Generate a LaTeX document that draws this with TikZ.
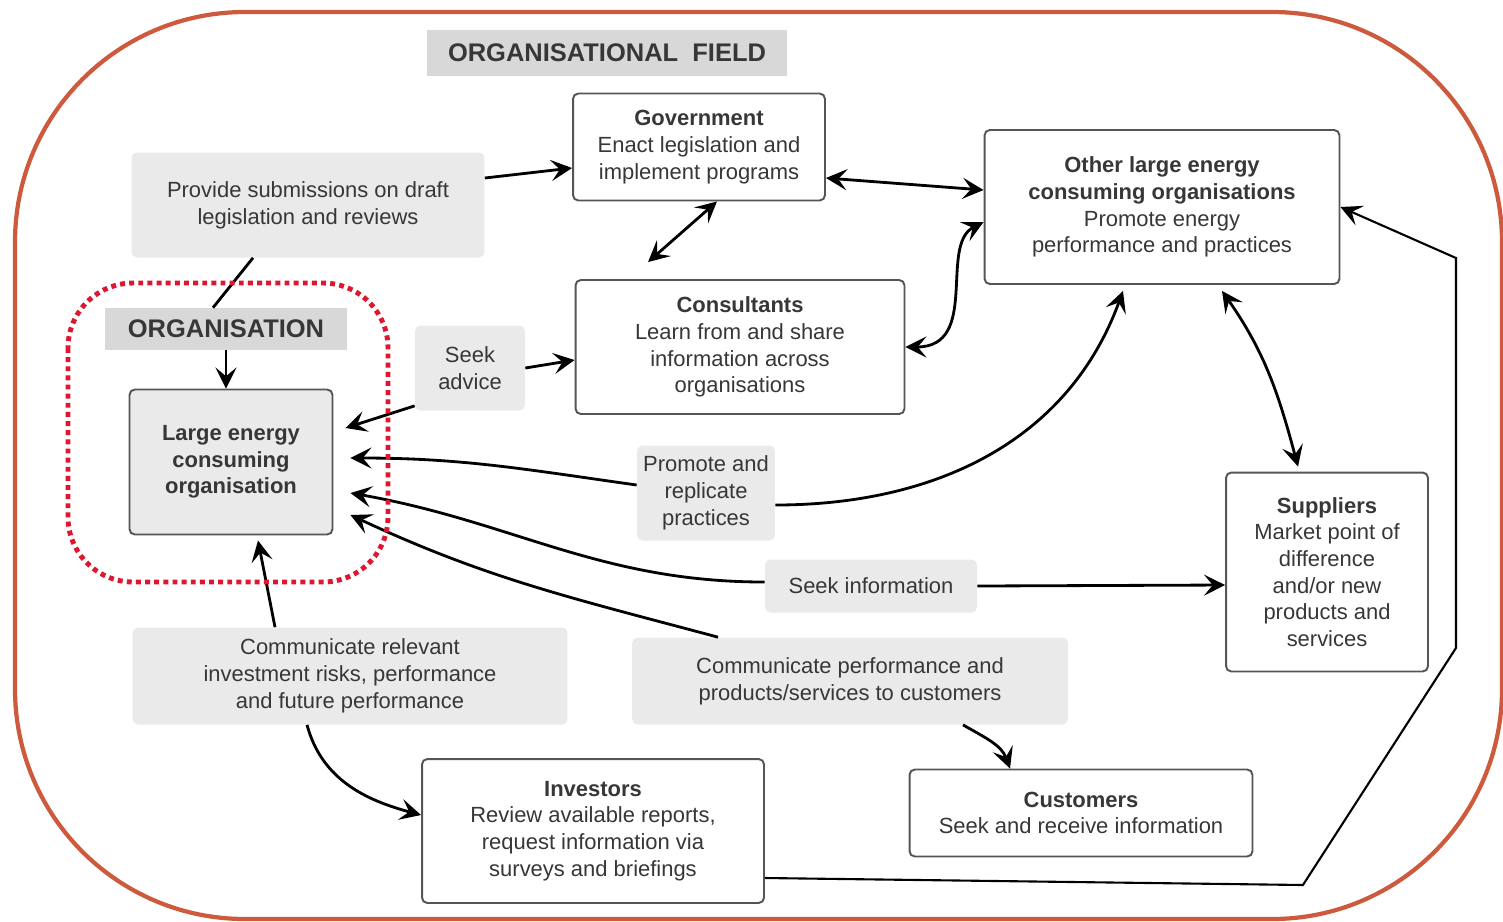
\documentclass[tikz,border=0pt]{standalone}
\usepackage{fontspec}
\setmainfont{Liberation Sans}
\usetikzlibrary{arrows.meta, positioning, calc}
\definecolor{framered}{RGB}{206, 90, 62}
\definecolor{dotred}{RGB}{222, 22, 48}
\definecolor{lblgray}{RGB}{234, 234, 234}
\definecolor{titlegray}{RGB}{216, 216, 216}
\definecolor{edgegray}{RGB}{85, 85, 85}
\definecolor{inkgray}{RGB}{55, 55, 55}
\tikzset{
  >={Stealth[length=12pt, width=12pt, inset=5pt]},
  actorbox/.style={draw=edgegray, line width=1.1pt, fill=white, rounded corners=3pt, align=center, inner sep=2pt, text=inkgray, font=\fontsize{12.5}{15.2}\selectfont},
  actlabel/.style={fill=lblgray, rounded corners=3pt, align=center, inner sep=2pt, text=inkgray, font=\fontsize{12.5}{15.2}\selectfont},
  fieldlabel/.style={fill=titlegray, inner sep=2pt, text=inkgray, font=\fontsize{14.5}{17}\selectfont\bfseries},
  flow/.style={line width=1.6pt, black},
}

\begin{document}
\begin{tikzpicture}[x=0.02cm, y=-0.02cm]
  \useasboundingbox (0,0) rectangle (1503,921);

  % outer field
  \draw[framered, line width=2.4pt, rounded corners=4.6cm] (15,12) rectangle (1502,919);

  % labels of the two levels
  \node[fieldlabel, minimum width=7.22cm, minimum height=0.92cm] (field) at (607,53) {ORGANISATIONAL\ \ FIELD};
  \node[fieldlabel, minimum width=4.86cm, minimum height=0.84cm] (orglab) at (226,329) {ORGANISATION};

  % actors
  \node[actorbox, minimum width=5.04cm, minimum height=2.14cm] (gov) at (699,147) {\textbf{Government}\\Enact legislation and\\implement programs};
  \node[actorbox, minimum width=7.1cm, minimum height=3.08cm] (other) at (1162,207) {\textbf{Other large energy}\\\textbf{consuming organisations}\\Promote energy\\performance and practices};
  \node[actorbox, minimum width=6.58cm, minimum height=2.68cm] (cons) at (740,347) {\textbf{Consultants}\\Learn from and share\\information across\\organisations};
  \node[actorbox, fill=lblgray, minimum width=4.06cm, minimum height=2.9cm] (leco) at (231,462) {\textbf{Large energy}\\\textbf{consuming}\\\textbf{organisation}};
  \node[actorbox, minimum width=4.04cm, minimum height=3.98cm] (supp) at (1327,572) {\textbf{Suppliers}\\Market point of\\difference\\and/or new\\products and\\services};
  \node[actorbox, minimum width=6.84cm, minimum height=2.88cm] (inv) at (593,831) {\textbf{Investors}\\Review available reports,\\request information via\\surveys and briefings};
  \node[actorbox, minimum width=6.86cm, minimum height=1.74cm] (cust) at (1081,813) {\textbf{Customers}\\Seek and receive information};

  % activities
  \node[actlabel, minimum width=7.06cm, minimum height=2.1cm] (prov) at (308,205) {Provide submissions on draft\\legislation and reviews};
  \node[actlabel, minimum width=2.2cm, minimum height=1.7cm] (advice) at (470,368) {Seek\\advice};
  \node[actlabel, minimum width=2.76cm, minimum height=1.9cm] (promote) at (706,493) {Promote and\\replicate\\practices};
  \node[actlabel, minimum width=4.24cm, minimum height=1.06cm] (seekinfo) at (871,586) {Seek information};
  \node[actlabel, minimum width=8.7cm, minimum height=1.94cm] (commrel) at (350,676) {Communicate relevant\\investment risks, performance\\and future performance};
  \node[actlabel, minimum width=8.72cm, minimum height=1.74cm] (commperf) at (850,681) {Communicate performance and\\products/services to customers};

  % connectors
  \draw[flow, ->] ([yshift=0.54cm]prov.east) -- ([yshift=-0.42cm]gov.west);
  \draw[flow] ([xshift=-1.1cm]prov.south) -- ([xshift=-0.26cm]orglab.north);
  \draw[flow, ->] (orglab.south) -- (orglab.south |- leco.north);
  \draw[flow, <->] ([xshift=0.36cm]gov.south) -- ([xshift=-1.84cm, yshift=0.34cm]cons.north);
  \draw[flow, <->] ([yshift=-0.62cm]gov.east) -- ([yshift=0.34cm]other.west);
  \draw[flow, <->] (cons.east) .. controls +(75,0) and +(-45,23) .. ([yshift=-0.3cm]other.west);
  \draw[flow, ->] (advice.east) -- ([yshift=-0.26cm]cons.west);
  \draw[flow, ->] ([yshift=0.1cm]advice.south west) -- ([xshift=0.24cm, yshift=0.68cm]leco.east);
  \draw[flow, ->] ([yshift=0.16cm]promote.west) to[out=172, in=0] ([xshift=0.34cm, yshift=0.08cm]leco.east);
  \draw[flow, ->] ([yshift=-0.24cm]promote.east) to[out=0, in=-110] ([xshift=-0.78cm, yshift=-0.12cm]other.south);
  \draw[flow, ->] ([yshift=0.08cm]seekinfo.west) to[out=180, in=-10] ([xshift=0.34cm, yshift=-0.62cm]leco.east);
  \draw[flow, ->] (seekinfo.east) -- ([yshift=-0.26cm]supp.west);
  \draw[flow, ->] ([xshift=-2.64cm]commperf.north) to[out=165, in=-25] ([xshift=0.34cm, yshift=-1.06cm]leco.east);
  \draw[flow, ->] ([xshift=2.26cm]commperf.south) to[out=-30, in=110] ([xshift=-1.42cm]cust.north);
  \draw[flow, ->] ([xshift=-1.5cm]commrel.north) -- ([xshift=0.54cm, yshift=-0.1cm]leco.south);
  \draw[flow, ->] ([xshift=-0.86cm]commrel.south) to[out=-75, in=165] ([yshift=0.32cm]inv.west);
  \draw[flow, <->] ([xshift=1.2cm, yshift=-0.12cm]other.south) to[out=-55, in=105] ([xshift=-0.58cm, yshift=0.1cm]supp.north);
  \draw[flow, ->, line width=1.2pt] ([yshift=-0.94cm]inv.east) -- ++(538,7) -- ++(153,-237) -- ++(0,-390) -- (other.east);

  % boundary of the organisation
  \draw[dotred, line width=2.8pt, dash pattern=on 2.8pt off 2.4pt, rounded corners=1.3cm] (68,283) rectangle (388,582);
\end{tikzpicture}
\end{document}
